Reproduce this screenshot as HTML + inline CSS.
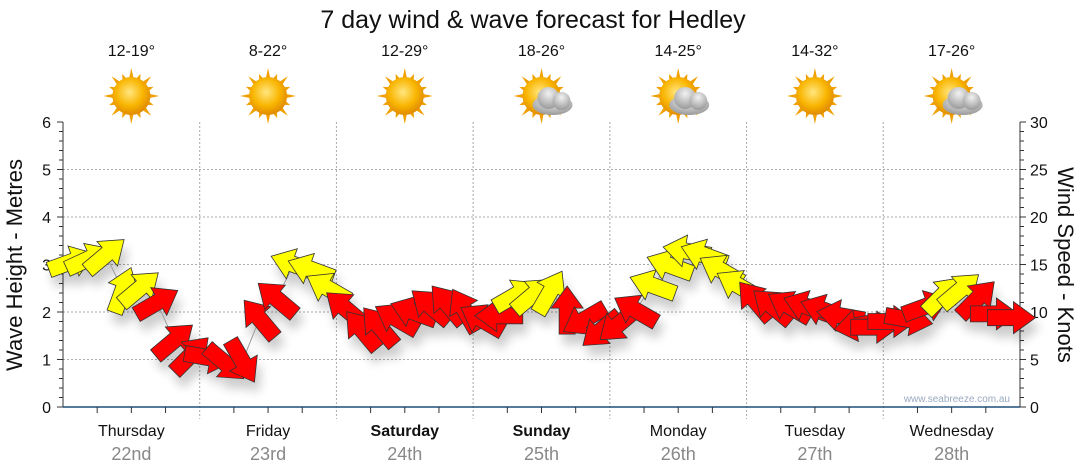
<!DOCTYPE html>
<html><head><meta charset="utf-8"><style>
body{margin:0;background:#fff;width:1080px;height:475px;overflow:hidden;font-family:"Liberation Sans",sans-serif}
svg{position:absolute;left:0;top:0}
</style></head><body>
<svg width="1080" height="475">
<defs>
<filter id="sh" x="-50%" y="-50%" width="200%" height="200%"><feGaussianBlur in="SourceAlpha" stdDeviation="5"/><feOffset dx="4" dy="10"/><feComponentTransfer><feFuncA type="linear" slope="0.2"/></feComponentTransfer><feMerge><feMergeNode/><feMergeNode in="SourceGraphic"/></feMerge></filter>
<radialGradient id="sun" cx="45%" cy="40%" r="60%"><stop offset="0" stop-color="#ffe680"/><stop offset="0.6" stop-color="#f9b500"/><stop offset="1" stop-color="#e08a00"/></radialGradient>
<radialGradient id="cloud" cx="50%" cy="30%" r="70%"><stop offset="0" stop-color="#f2f2f2"/><stop offset="1" stop-color="#9a9a9a"/></radialGradient>
</defs>
<text x="533" y="28" font-size="25" text-anchor="middle" fill="#111">7 day wind &amp; wave forecast for Hedley</text>
<g id="grid"></g>
<g id="axes"></g>
<g id="arrows" filter="url(#sh)"></g>
<g id="topG"></g>
<text x="1010" y="402" font-size="10" text-anchor="end" fill="#9aaac0">www.seabreeze.com.au</text>
<text transform="translate(22,265) rotate(-90)" font-size="22" text-anchor="middle" fill="#111">Wave Height - Metres</text>
<text transform="translate(1058,265) rotate(90)" font-size="22" text-anchor="middle" fill="#111">Wind Speed - Knots</text>
</svg>
<script>
const days=["Thursday","Friday","Saturday","Sunday","Monday","Tuesday","Wednesday"];
const dates=["22nd","23rd","24th","25th","26th","27th","28th"];
const temps=["12-19°","8-22°","12-29°","18-26°","14-25°","14-32°","17-26°"];
const icons=["sun","sun","sun","cloud","cloud","sun","cloud"];
const waveTicks=[0,1,2,3,4,5,6];
const windTicks=[0,5,10,15,20,25,30];
// wind speed (knots), 3-hourly
const windSpeed=[15.3,15.6,16,12.3,12.5,11,7,5.5,
 5.2,4.6,4.8,9.3,11.4,15,14.5,12.5,
 10.4,8.1,8.5,9.3,10,10.6,10.8,10.2,
 9.2,9.6,11.8,11.8,12.1,10.2,9.2,8.1,
 8.7,10.2,12.8,14.9,16.4,16,14.4,12.8,
 11.2,10.6,10.6,10.6,10.2,9.6,8.6,8.4,
 9,9.2,10.6,11.8,12.3,11.4,9.8,9.4];
// wind direction in degrees (screen: 0=right, -90=up)
const windDir=[-20,-25,-40,-70,-40,-30,-40,-45,
 10,40,60,-130,-140,-160,-160,-150,
 -140,-130,-130,-150,-160,-140,-130,-120,
 -150,180,-30,-40,-60,-90,150,140,
 140,-150,-160,-160,-170,-160,-150,-150,
 -130,-140,-150,-160,-160,-170,170,0,
 0,10,-20,-45,-40,-45,0,0];
const X0=63,X1=1020,Y0=407,Y1=122;
const sx=i=>X0+(i+0.5)*(X1-X0)/windSpeed.length;
const yWave=v=>Y0-(v/6)*(Y0-Y1);
const yWind=v=>Y0-(v/30)*(Y0-Y1);
const NS="http://www.w3.org/2000/svg";
function mk(t,a,p){const e=document.createElementNS(NS,t);for(const k in a)e.setAttribute(k,a[k]);p.appendChild(e);return e;}
const grid=document.getElementById('grid'),axes=document.getElementById('axes'),arr=document.getElementById('arrows'),topG=document.getElementById('topG');
const dw=(X1-X0)/7;
waveTicks.forEach(v=>{
 if(v>0&&v<6){const l=mk('line',{x1:X0,x2:X1,y1:yWave(v),y2:yWave(v),stroke:'#aaa','stroke-dasharray':'2,2'},grid);
 
 }
 const t=mk('text',{x:X0-12,y:yWave(v)+6,'font-size':16,'text-anchor':'end',fill:'#111'},axes);t.textContent=v;
 
 
 mk('line',{x1:X0-6,x2:X0,y1:yWave(v),y2:yWave(v),stroke:'#333'},axes);
 if(v<6)for(let k=1;k<5;k++)mk('line',{x1:X0-4,x2:X0,y1:yWave(v+k*0.2),y2:yWave(v+k*0.2),stroke:'#333'},axes);
});
windTicks.forEach(v=>{
 const t=mk('text',{x:X1+10,y:yWind(v)+6,'font-size':16,fill:'#111'},axes);t.textContent=v;
 
 
 mk('line',{x1:X1,x2:X1+6,y1:yWind(v),y2:yWind(v),stroke:'#333'},axes);
 if(v<30)for(let k=1;k<5;k++)mk('line',{x1:X1,x2:X1+4,y1:yWind(v+k),y2:yWind(v+k),stroke:'#333'},axes);
});
mk('line',{x1:X0,x2:X0,y1:Y1,y2:Y0,stroke:'#333'},axes);
mk('line',{x1:X1,x2:X1,y1:Y1,y2:Y0,stroke:'#333'},axes);
mk('line',{x1:X0,x2:X1,y1:Y0,y2:Y0,stroke:'#1f4e79','stroke-width':1.5},axes);
for(let d=0;d<7;d++){
 const cx=X0+dw*(d+0.5);
 if(d>0){const l=mk('line',{x1:X0+dw*d,x2:X0+dw*d,y1:Y1,y2:Y0+12,stroke:'#aaa','stroke-dasharray':'2,2'},grid);
 
 }
 for(let k=1;k<4;k++)mk('line',{x1:X0+dw*(d+k/4),x2:X0+dw*(d+k/4),y1:Y0,y2:Y0+6,stroke:'#333'},axes);
 const t1=mk('text',{x:cx,y:436,'font-size':16,'text-anchor':'middle',fill:'#111','font-weight':(d==2||d==3)?'bold':'normal'},axes);t1.textContent=days[d];
 
 
 const t2=mk('text',{x:cx,y:460,'font-size':18,'text-anchor':'middle',fill:'#888'},axes);t2.textContent=dates[d];
 
 
 const t3=mk('text',{x:cx,y:56,'font-size':16,'text-anchor':'middle',fill:'#111'},topG);t3.textContent=temps[d];
 
 
 const g=mk('g',{transform:`translate(${cx},96)`},topG);
 
 
 for(let r=0;r<16;r++){const a=r*Math.PI/8;mk('polygon',{points:`${Math.cos(a-0.12)*18},${Math.sin(a-0.12)*18} ${Math.cos(a)*(r%2?24:28)},${Math.sin(a)*(r%2?24:28)} ${Math.cos(a+0.12)*18},${Math.sin(a+0.12)*18}`,fill:'#f0a000'},g);}
 mk('circle',{cx:0,cy:0,r:19,fill:'url(#sun)'},g);
 if(icons[d]=='cloud'){const c=mk('g',{transform:'translate(11,5)'},g);
  mk('ellipse',{cx:0,cy:4,rx:20,ry:10,fill:'url(#cloud)'},c);mk('circle',{cx:-4,cy:-3,r:11,fill:'url(#cloud)'},c);mk('circle',{cx:9,cy:0,r:9,fill:'url(#cloud)'},c);}
}
// connecting line
let pts=windSpeed.map((v,i)=>sx(i)+','+yWind(v)).join(' ');
mk('polyline',{points:pts,fill:'none',stroke:'#999'},arr);
windSpeed.forEach((v,i)=>{
 const p=mk('polygon',{points:'-24,-8 2,-8 2,-16 24,0 2,16 2,8 -24,8',fill:v>=11.5?'#ffff00':'#ff0000',stroke:'#333','stroke-width':0.8,transform:`translate(${sx(i)},${yWind(v)}) rotate(${windDir[i]})`},arr);
 
 
});
</script>
</body></html>
